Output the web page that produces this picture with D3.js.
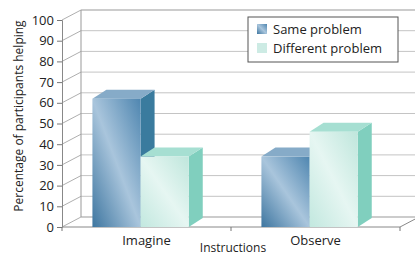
<!DOCTYPE html>
<html>
<head>
<meta charset="utf-8">
<script src="https://cdn.jsdelivr.net/npm/d3@7"></script>
<style>
  body { margin: 0; background: #fff; }
  svg text { font-family: "Open Sans", "Noto Sans", sans-serif; fill: #222; }
</style>
</head>
<body>
<div id="chart"></div>
<script>
// data
const categories = ["Imagine", "Observe"];
const series = ["Same problem", "Different problem"];
const sameValues = [62, 34];
const diffValues = [34, 46];
const yTicks = [0, 10, 20, 30, 40, 50, 60, 70, 80, 90, 100];

var width = 415, height = 255;
// 3d offsets of the wall and of the bars
var wallDx = 19, wallDy = -10;
var barDx = 14, barDy = -9;

var svg = d3.select("#chart").append("svg")
  .attr("width", width).attr("height", height);

var defs = svg.append("defs");
var g1 = defs.append("linearGradient").attr("id", "gSame")
  .attr("x1", 0).attr("y1", 1).attr("x2", 1).attr("y2", 0);
g1.append("stop").attr("offset", "0%").attr("stop-color", "#3e76a0");
g1.append("stop").attr("offset", "50%").attr("stop-color", "#a9c5dc");
g1.append("stop").attr("offset", "100%").attr("stop-color", "#4f86b0");
var g2 = defs.append("linearGradient").attr("id", "gDiff")
  .attr("x1", 0).attr("y1", 1).attr("x2", 1).attr("y2", 0);
g2.append("stop").attr("offset", "0%").attr("stop-color", "#c2e8df");
g2.append("stop").attr("offset", "50%").attr("stop-color", "#e6f6f2");
g2.append("stop").attr("offset", "100%").attr("stop-color", "#bfe6dc");

var y = d3.scaleLinear().domain([0, 100]).range([227, 20]);
var x = d3.scaleBand().domain(categories).range([62, 400]);
var xs = d3.scaleBand().domain(series)
  .range([x.bandwidth() * 0.18, x.bandwidth() * 0.75]);

// back wall + side wall gridlines
var grid = svg.append("g");
yTicks.forEach(function(t) {
  grid.append("line")
    .attr("x1", 62 + wallDx).attr("x2", width + 5)
    .attr("y1", y(t) + wallDy).attr("y2", y(t) + wallDy)
    .attr("stroke", t == 0 || t == 100 ? "#999" : "#c4c4c4").attr("stroke-width", 1);
  grid.append("line")
    .attr("x1", 62).attr("x2", 62 + wallDx)
    .attr("y1", y(t)).attr("y2", y(t) + wallDy)
    .attr("stroke", "#999").attr("stroke-width", 0.8);
});
grid.append("line")
  .attr("x1", 62 + wallDx).attr("x2", 62 + wallDx)
  .attr("y1", y(0) + wallDy).attr("y2", y(100) + wallDy)
  .attr("stroke", "#999");

// floor front edge and right edge
svg.append("line").attr("x1", 62).attr("x2", 400)
  .attr("y1", y(0)).attr("y2", y(0)).attr("stroke", "#888");
svg.append("line").attr("x1", 400).attr("x2", 400 + wallDx)
  .attr("y1", y(0)).attr("y2", y(0) + wallDy).attr("stroke", "#888");
[62, 231, 400].forEach(function(t) {
  svg.append("line").attr("x1", t).attr("x2", t)
    .attr("y1", y(0)).attr("y2", y(0) + 4).attr("stroke", "#777");
});

// y axis
svg.append("g")
  .attr("transform", "translate(62,0)")
  .call(d3.axisLeft(y).tickValues(yTicks).tickSize(5).tickPadding(3))
  .call(function(g) {
    g.select(".domain").attr("stroke", "#888");
    g.selectAll(".tick line").attr("stroke", "#777");
    g.selectAll("text").style("font-size", "13px").attr("fill", "#222");
  });

// bars
function bar(cat, ser, v, front, side, top) {
  var bx = x(cat) + xs(ser), w = xs.bandwidth();
  var yt = y(v), y0 = y(0);
  var b = svg.append("g");
  b.append("polygon")
    .attr("points", [[bx + w, yt], [bx + w + barDx, yt + barDy], [bx + w + barDx, y0 + barDy], [bx + w, y0]].join(" "))
    .attr("fill", side);
  b.append("polygon")
    .attr("points", [[bx, yt], [bx + barDx, yt + barDy], [bx + w + barDx, yt + barDy], [bx + w, yt]].join(" "))
    .attr("fill", top);
  b.append("rect")
    .attr("x", bx).attr("y", yt).attr("width", w).attr("height", y0 - yt)
    .attr("fill", front);
}
categories.forEach(function(c, i) {
  bar(c, series[0], sameValues[i], "url(#gSame)", "#3a7b9e", "#86abc8");
  bar(c, series[1], diffValues[i], "url(#gDiff)", "#80cfbe", "#a6dfd2");
});

// x labels
svg.selectAll(".xl").data(categories).enter().append("text")
  .attr("x", function(d) { return x(d) + x.bandwidth() / 2; })
  .attr("y", 245).attr("text-anchor", "middle")
  .style("font-size", "13px").text(function(d) { return d; });
svg.append("text").attr("x", 233).attr("y", 252).attr("text-anchor", "middle")
  .style("font-size", "12px").text("Instructions");
svg.append("text")
  .attr("transform", "translate(23,116) rotate(-90)")
  .attr("text-anchor", "middle").style("font-size", "12px")
  .text("Percentage of participants helping");

// legend
var lg = svg.append("g");
lg.append("rect").attr("x", 248).attr("y", 17).attr("width", 150).attr("height", 45)
  .attr("fill", "#fff").attr("stroke", "#555").attr("stroke-width", 1);
series.forEach(function(s, i) {
  lg.append("rect").attr("x", 257).attr("y", 24 + i * 19).attr("width", 10).attr("height", 10)
    .attr("fill", i == 0 ? "url(#gSame)" : "#cdebe4");
  lg.append("text").attr("x", 273).attr("y", 34 + i * 19)
    .style("font-size", "13px").text(s);
});
</script>
</body>
</html>
